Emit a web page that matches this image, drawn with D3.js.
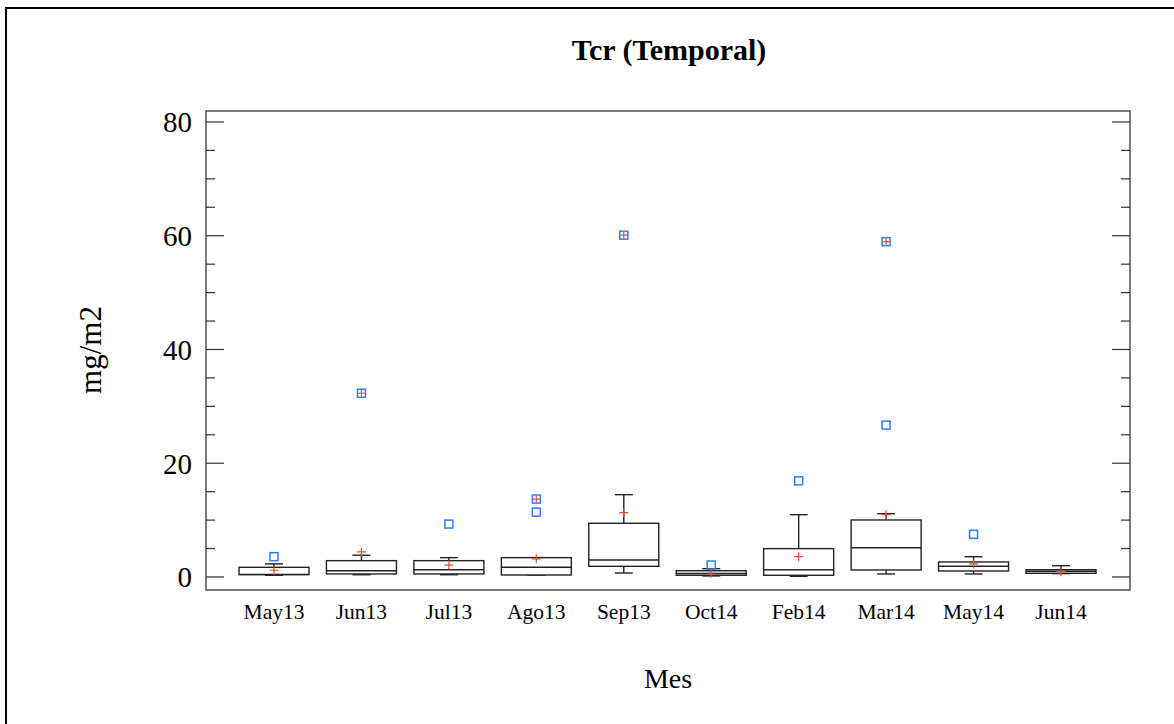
<!DOCTYPE html>
<html>
<head>
<meta charset="utf-8">
<script src="https://cdn.jsdelivr.net/npm/d3@7"></script>
<style>
  body { margin: 0; background: #fff; }
  svg { display: block; }
</style>
</head>
<body>
<div id="chart"></div>
<script>
var width = 1174,
  height = 724;

// categories and box stats
var meses = ["May13", "Jun13", "Jul13", "Ago13", "Sep13", "Oct14", "Feb14", "Mar14", "May14", "Jun14"];
var lowW   = [0.3, 0.4, 0.4, 0.35, 0.7, 0.18, 0.12, 0.53, 0.53, 0.6];
var q1     = [0.4, 0.53, 0.53, 0.35, 1.88, 0.3, 0.3, 1.23, 1.05, 0.65];
var median = [0.45, 1.1, 1.28, 1.7, 2.99, 0.6, 1.28, 5.15, 1.88, 1.0];
var q3     = [1.7, 2.87, 2.87, 3.4, 9.44, 1.1, 4.98, 10.02, 2.64, 1.28];
var highW  = [2.3, 3.82, 3.4, 3.4, 14.47, 1.46, 10.95, 11.13, 3.57, 1.99];
var media  = [1.18, 4.4, 2.1, 3.2, 11.3, 0.7, 3.57, 10.95, 2.29, 0.93];
// outliers: [category index, value, far?]
var atipicos = [
  [0, 3.57, false],
  [1, 32.3, true],
  [2, 9.3, false],
  [3, 13.7, true],
  [3, 11.4, false],
  [4, 60.1, true],
  [5, 2.1, false],
  [6, 16.9, false],
  [7, 58.95, true],
  [7, 26.7, false],
  [8, 7.5, false]
];
var yTicks = [0, 20, 40, 60, 80];

var plotL = 206, plotR = 1130, plotT = 111, plotB = 590;

var x = d3.scalePoint()
  .domain(meses)
  .range([274, 1061]);

var y = d3.scaleLinear()
  .domain([-2.29, 81.93])
  .range([plotB, plotT]);

var boxW = 70, capW = 18;

var svg = d3.select("#chart").append("svg")
  .attr("width", width)
  .attr("height", height);

// outer frame (only top and left are visible)
svg.append("path")
  .attr("d", "M6," + (height + 10) + "V8H" + (width + 10))
  .attr("fill", "none")
  .attr("stroke", "#000")
  .attr("stroke-width", 2);

// plot box
svg.append("rect")
  .attr("x", plotL)
  .attr("y", plotT)
  .attr("width", plotR - plotL)
  .attr("height", plotB - plotT)
  .attr("fill", "none")
  .attr("stroke", "#333")
  .attr("stroke-width", 1.3);

// ticks, inward on left and right
var minor = d3.range(0, 81, 5);
var g = svg.append("g").attr("stroke", "#333").attr("stroke-width", 1.2);
minor.forEach(function (v) {
  var len = v % 20 == 0 ? 18 : 9;
  g.append("line").attr("x1", plotL).attr("x2", plotL + len).attr("y1", y(v)).attr("y2", y(v));
  g.append("line").attr("x1", plotR - len).attr("x2", plotR).attr("y1", y(v)).attr("y2", y(v));
});

svg.selectAll(".ylab")
  .data(yTicks)
  .enter()
  .append("text")
  .attr("x", 192)
  .attr("y", function (d) { return y(d); })
  .attr("dy", "0.36em")
  .attr("text-anchor", "end")
  .attr("font-family", "Liberation Serif, serif")
  .attr("font-size", 29)
  .text(function (d) { return d; });

svg.selectAll(".xlab")
  .data(meses)
  .enter()
  .append("text")
  .attr("x", function (d) { return x(d); })
  .attr("y", 619)
  .attr("text-anchor", "middle")
  .attr("font-family", "Liberation Serif, serif")
  .attr("font-size", 21.5)
  .text(function (d) { return d; });

// boxes
var boxes = svg.selectAll(".box")
  .data(meses)
  .enter()
  .append("g")
  .attr("stroke", "#222")
  .attr("stroke-width", 1.4)
  .attr("fill", "none");

boxes.append("line")
  .attr("x1", function (d) { return x(d); })
  .attr("x2", function (d) { return x(d); })
  .attr("y1", function (d, i) { return y(q3[i]); })
  .attr("y2", function (d, i) { return y(highW[i]); });
boxes.append("line")
  .attr("x1", function (d) { return x(d); })
  .attr("x2", function (d) { return x(d); })
  .attr("y1", function (d, i) { return y(q1[i]); })
  .attr("y2", function (d, i) { return y(lowW[i]); });
boxes.append("line")
  .attr("x1", function (d) { return x(d) - capW / 2; })
  .attr("x2", function (d) { return x(d) + capW / 2; })
  .attr("y1", function (d, i) { return y(highW[i]); })
  .attr("y2", function (d, i) { return y(highW[i]); });
boxes.append("line")
  .attr("x1", function (d) { return x(d) - capW / 2; })
  .attr("x2", function (d) { return x(d) + capW / 2; })
  .attr("y1", function (d, i) { return y(lowW[i]); })
  .attr("y2", function (d, i) { return y(lowW[i]); });
boxes.append("rect")
  .attr("x", function (d) { return x(d) - boxW / 2; })
  .attr("width", boxW)
  .attr("y", function (d, i) { return y(q3[i]); })
  .attr("height", function (d, i) { return y(q1[i]) - y(q3[i]); })
  .attr("fill", "#fff");
boxes.append("line")
  .attr("x1", function (d) { return x(d) - boxW / 2; })
  .attr("x2", function (d) { return x(d) + boxW / 2; })
  .attr("y1", function (d, i) { return y(median[i]); })
  .attr("y2", function (d, i) { return y(median[i]); });

// outliers
svg.selectAll(".out")
  .data(atipicos)
  .enter()
  .append("rect")
  .attr("x", function (d) { return x(meses[d[0]]) - 4; })
  .attr("y", function (d) { return y(d[1]) - 4; })
  .attr("width", 8)
  .attr("height", 8)
  .attr("fill", "none")
  .attr("stroke", "#2f7df6")
  .attr("stroke-width", 1.5);

// mean markers and far outlier crosses
function cruz(cx, cy, s) {
  return "M" + (cx - s) + "," + cy + "H" + (cx + s) + "M" + cx + "," + (cy - s) + "V" + (cy + s);
}
svg.selectAll(".mean")
  .data(meses)
  .enter()
  .append("path")
  .attr("d", function (d, i) { return cruz(x(d), y(media[i]), 4.5); })
  .attr("stroke", "#f04a30")
  .attr("stroke-width", 1.2);
svg.selectAll(".far")
  .data(atipicos.filter(function (d) { return d[2]; }))
  .enter()
  .append("path")
  .attr("d", function (d) { return cruz(x(meses[d[0]]), y(d[1]), 3.5); })
  .attr("stroke", "#f04a30")
  .attr("stroke-width", 1.2);

// titles
svg.append("text")
  .attr("x", 669)
  .attr("y", 60)
  .attr("text-anchor", "middle")
  .attr("font-family", "Liberation Serif, serif")
  .attr("font-weight", "bold")
  .attr("font-size", 30)
  .text("Tcr (Temporal)");

svg.append("text")
  .attr("transform", "translate(101,350) rotate(-90)")
  .attr("text-anchor", "middle")
  .attr("font-family", "Liberation Serif, serif")
  .attr("font-size", 31)
  .text("mg/m2");

svg.append("text")
  .attr("x", 668)
  .attr("y", 688)
  .attr("text-anchor", "middle")
  .attr("font-family", "Liberation Serif, serif")
  .attr("font-size", 28)
  .text("Mes");
</script>
</body>
</html>
